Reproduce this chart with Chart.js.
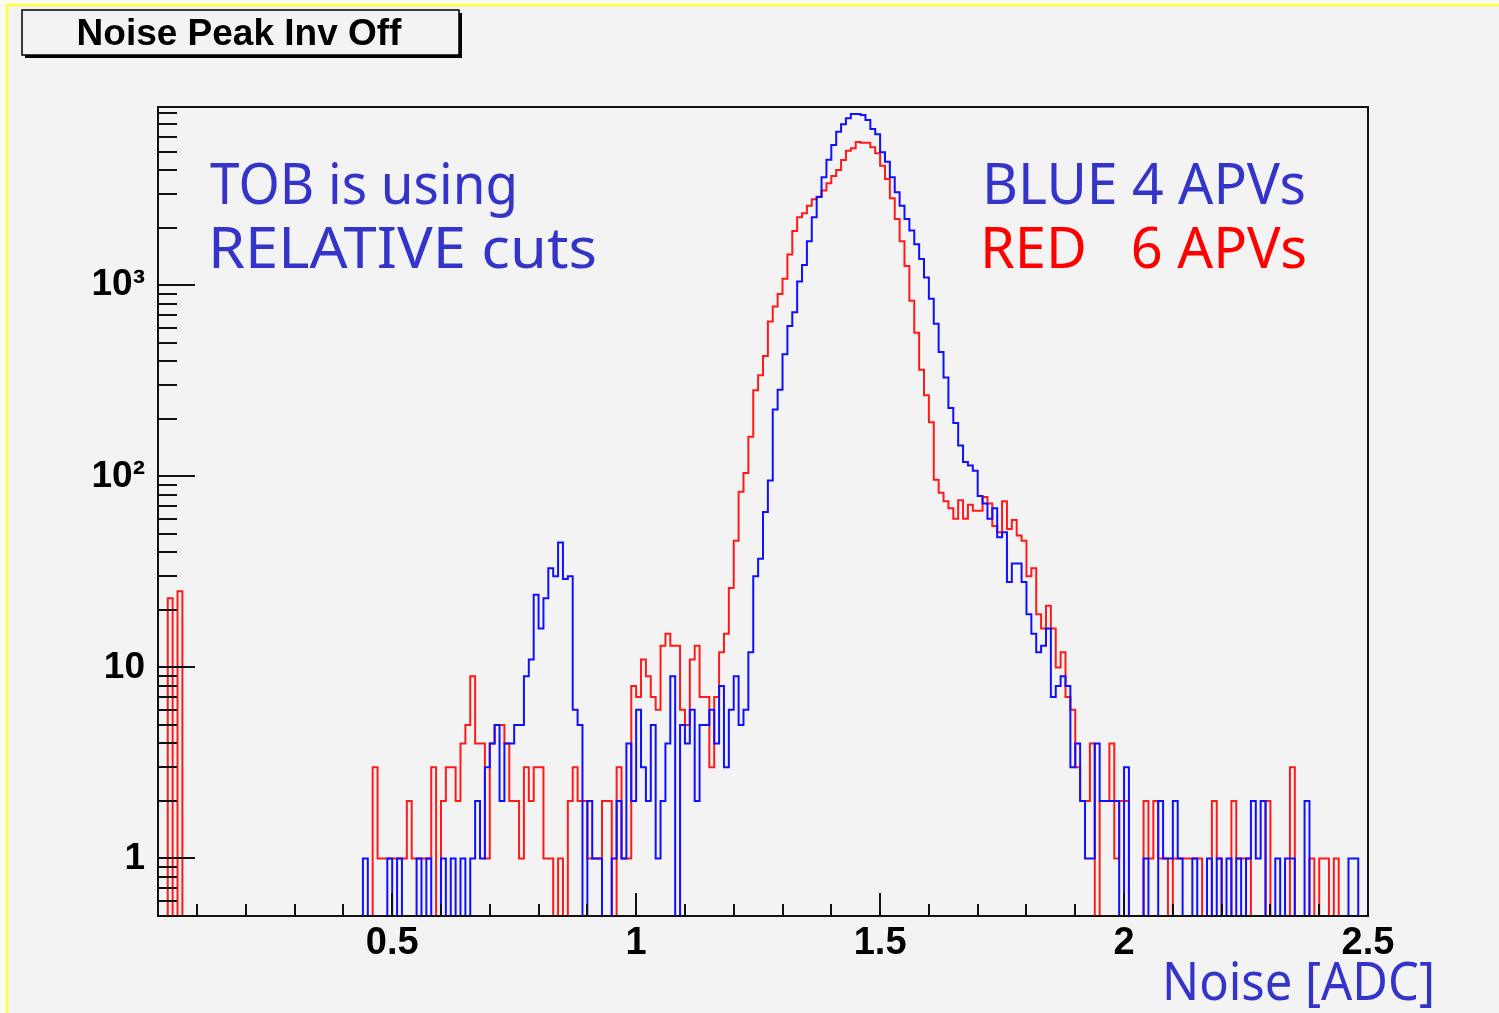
<!DOCTYPE html>
<html><head><meta charset="utf-8">
<script src="https://cdn.jsdelivr.net/npm/chart.js@4/dist/chart.umd.min.js"></script>
<style>
html,body{margin:0;padding:0;background:#fbfaf2;overflow:hidden}
#wrap{position:relative;width:1499px;height:1013px}
canvas{display:block;position:absolute;left:0;top:0}
</style></head><body>
<div id="wrap"><canvas id="c" width="1499" height="1013"></canvas></div>
<script>
// ---- data (histogram bins of width 0.01 starting at 0.02) ----
const binStart = 0.02;
const binWidth = 0.01;
const blueCounts = [
  0,0,0,0,0,0,0,0,
  0,0,0,0,0,0,0,0,0,0,
  0,0,0,0,0,0,0,0,0,0,
  0,0,0,0,0,0,0,0,0,0,
  0,0,0,0,1,0,0,0,0,1,
  0,1,0,0,0,1,0,1,0,0,
  1,0,1,0,1,0,1,2,1,3,
  4,5,2,4,4,5,5,9,11,24,
  16,23,33,30,45,29,30,6,5,0,
  2,1,1,0,0,1,2,1,4,2,
  6,3,2,5,1,2,4,9,0,5,
  4,6,2,5,5,6,4,8,3,6,
  9,5,6,12,30,37,65,95,224,284,
  436,613,723,1045,1278,1701,2270,2900,3676,4544,
  5424,6366,6960,7482,7877,7877,7783,7330,6577,6170,
  4966,4436,3676,3069,2611,2225,1932,1640,1374,1097,
  849,628,447,329,228,190,145,119,114,107,
  79,72,60,68,48,51,28,35,35,28,
  19,15,12,13,16,7,8,9,8,3,
  4,2,1,1,4,2,2,2,2,0,
  3,0,0,0,1,0,0,2,1,1,
  2,1,0,0,1,0,0,1,0,1,
  0,1,0,1,0,1,2,1,2,0,
  0,1,0,1,1,0,0,2,0,0,
  0,0,0,0,0,0,1,1,0,0
];
const redCounts = [
  0,0,23,0,25,0,0,0,
  0,0,0,0,0,0,0,0,0,0,
  0,0,0,0,0,0,0,0,0,0,
  0,0,0,0,0,0,0,0,0,0,
  0,0,0,0,0,0,3,1,1,1,
  1,1,1,2,1,1,1,1,3,0,
  2,3,3,2,4,5,9,4,4,1,
  4,5,5,4,2,2,1,3,2,3,
  3,1,1,0,1,0,2,3,2,2,
  1,1,1,2,2,0,3,1,1,8,
  7,11,9,7,6,13,15,13,13,6,
  5,11,13,7,7,3,7,12,15,26,
  46,83,104,161,282,338,427,646,774,900,
  1083,1450,1925,2270,2383,2611,2820,2910,3129,3420,
  3734,4015,4528,5064,5213,5623,5577,5577,5277,4909,
  4227,3601,2854,2225,1700,1260,830,564,361,266,
  192,96,82,74,68,60,75,60,71,66,
  66,78,72,55,51,74,53,59,49,46,
  30,33,19,16,21,16,10,12,7,6,
  3,2,2,4,0,2,2,4,1,2,
  2,0,0,0,2,1,2,1,1,0,
  1,1,1,1,1,1,0,0,2,1,
  0,0,2,1,1,1,0,0,0,2,
  0,0,0,0,3,0,0,0,1,0,
  1,1,0,1,0,0,0,0,0,0
];
const xTickValues = [0.5, 1, 1.5, 2, 2.5];
const xTickLabels = ['0.5', '1', '1.5', '2', '2.5'];
const yTickValues = [1, 10, 100, 1000];
const yTickLabels = ['1', '10', '10\u00B2', '10\u00B3'];
const xRange = [0.02, 2.5];
const yRange = [0.5, 8570];
const titleText = 'Noise Peak Inv Off';
const xAxisTitle = 'Noise [ADC]';

// ---- build step-histogram points through the library scales ----
function toPoints(counts) {
  const pts = counts.map((c, i) => ({
    x: +(binStart + i * binWidth).toFixed(4),
    y: c > 0 ? c : yRange[0]
  }));
  pts.push({ x: +(binStart + counts.length * binWidth).toFixed(4), y: yRange[0] });
  return pts;
}

const FONT = "'Liberation Sans', Arial, Helvetica, sans-serif";
const HAND = "'Comic Sans MS', 'Noto Sans', 'DejaVu Sans', sans-serif";

const annotations = [
  { text: 'TOB is using', x: 210, y: 204, w: 308, size: 56, color: '#3434c8' },
  { text: 'RELATIVE cuts', x: 208, y: 268, w: 389, size: 56, color: '#3434c8' },
  { text: 'BLUE 4 APVs', x: 982, y: 204, w: 324, size: 56, color: '#3434c8' },
  { text: 'RED   6 APVs', x: 980, y: 268, w: 327, size: 56, color: '#ff0000' },
  { text: xAxisTitle, x: 1162, y: 1000, w: 273, size: 52, color: '#3434c8' }
];

const decor = {
  id: 'decor',
  beforeDraw(chart) {
    const ctx = chart.ctx;
    ctx.save();
    ctx.fillStyle = '#f3f3f3';
    ctx.fillRect(7, 5, 1499, 1013);
    ctx.strokeStyle = '#ffff40';
    ctx.lineWidth = 2.5;
    ctx.beginPath();
    ctx.moveTo(7, 1013); ctx.lineTo(7, 5); ctx.lineTo(1499, 5);
    ctx.stroke();
    // title box with shadow
    ctx.fillStyle = '#000';
    ctx.fillRect(25, 13, 437, 45);
    ctx.fillStyle = '#f3f3f3';
    ctx.fillRect(22, 10, 437, 45);
    ctx.strokeStyle = '#000';
    ctx.lineWidth = 1.5;
    ctx.strokeRect(22, 10, 437, 45);
    ctx.fillStyle = '#000';
    ctx.font = 'bold 37px ' + FONT;
    ctx.textAlign = 'center';
    ctx.textBaseline = 'alphabetic';
    ctx.fillText(titleText, 239, 45);
    ctx.restore();
  },
  afterDatasetsDraw(chart) {
    const { ctx, chartArea: a, scales: { x, y } } = chart;
    ctx.save();
    ctx.strokeStyle = '#111';
    ctx.lineWidth = 2;
    ctx.beginPath();
    for (let k = 1; k <= 24; k++) {
      const px = Math.round(x.getPixelForValue(k / 10));
      const len = (k % 5 === 0) ? 23 : 12;
      ctx.moveTo(px, a.bottom); ctx.lineTo(px, a.bottom - len);
    }
    for (let e = -1; e <= 3; e++) {
      for (let m = 1; m <= 9; m++) {
        const v = m * Math.pow(10, e);
        if (v <= yRange[0] || v >= yRange[1]) continue;
        const py = Math.round(y.getPixelForValue(v));
        const len = (m === 1) ? 37 : 19;
        ctx.moveTo(a.left, py); ctx.lineTo(a.left + len, py);
      }
    }
    ctx.stroke();
    ctx.lineWidth = 2;
    ctx.strokeStyle = '#111';
    ctx.strokeRect(a.left, a.top, a.right - a.left, a.bottom - a.top);
    ctx.restore();
  },
  afterDraw(chart) {
    const ctx = chart.ctx;
    ctx.save();
    ctx.textBaseline = 'alphabetic';
    ctx.textAlign = 'left';
    annotations.forEach(t => {
      ctx.font = t.size + 'px ' + HAND;
      const w = ctx.measureText(t.text).width;
      ctx.save();
      ctx.translate(t.x, t.y);
      ctx.scale(t.w / w, 1);
      ctx.fillStyle = t.color;
      ctx.fillText(t.text, 0, 0);
      ctx.restore();
    });
    ctx.restore();
  }
};

new Chart(document.getElementById('c'), {
  type: 'line',
  data: {
    datasets: [
      { label: 'BLUE 4 APVs', data: toPoints(blueCounts), borderColor: '#1010ff', borderWidth: 2,
        pointRadius: 0, stepped: 'before', fill: false, tension: 0 },
      { label: 'RED 6 APVs', data: toPoints(redCounts), borderColor: '#ff1a1a', borderWidth: 2,
        pointRadius: 0, stepped: 'before', fill: false, tension: 0 }
    ]
  },
  options: {
    responsive: false,
    devicePixelRatio: 1,
    animation: false,
    events: [],
    layout: { padding: { left: 0, top: 107, right: 131, bottom: 0 } },
    plugins: { legend: { display: false }, title: { display: false }, tooltip: { enabled: false } },
    scales: {
      x: {
        type: 'linear', min: xRange[0], max: xRange[1],
        grid: { display: false }, border: { display: false },
        afterBuildTicks: s => { s.ticks = xTickValues.map(v => ({ value: v })); },
        afterFit: s => { s.height = 97; },
        ticks: {
          autoSkip: false, maxRotation: 0, padding: -3, color: '#000',
          font: { family: FONT, weight: 'bold', size: 38 },
          callback: (v) => { const i = xTickValues.findIndex(t => Math.abs(t - v) < 1e-9); return i >= 0 ? xTickLabels[i] : ''; }
        }
      },
      y: {
        type: 'logarithmic', min: yRange[0], max: yRange[1],
        grid: { display: false }, border: { display: false },
        afterBuildTicks: s => { s.ticks = yTickValues.map(v => ({ value: v })); },
        afterFit: s => { s.width = 158; },
        ticks: {
          autoSkip: false, padding: 5, color: '#000',
          font: { family: FONT, weight: 'bold', size: 37 },
          callback: (v) => { const i = yTickValues.findIndex(t => Math.abs(t - v) < 1e-9); return i >= 0 ? yTickLabels[i] : ''; }
        }
      }
    }
  },
  plugins: [decor]
});
</script>
</body></html>
